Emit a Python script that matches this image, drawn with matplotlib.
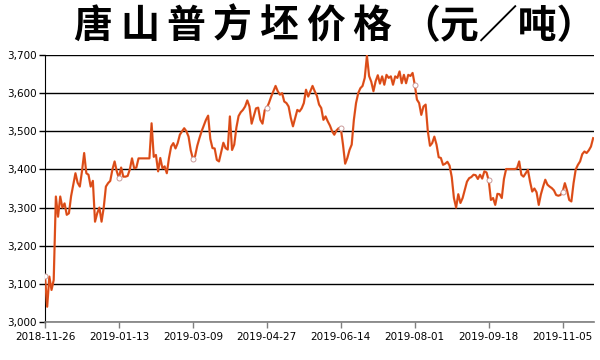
import matplotlib

matplotlib.use("Agg")
import matplotlib.pyplot as plt
from matplotlib.ticker import FuncFormatter, MultipleLocator

# 唐山普方坯 daily price (yuan/ton), one value per trading day
prices = [
    3120, 3040, 3119, 3084, 3110, 3329, 3276, 3329, 3300, 3311,
    3281, 3285, 3330, 3360, 3390, 3365, 3355, 3395, 3443, 3390,
    3386, 3355, 3370, 3263, 3285, 3300, 3263, 3300, 3355, 3364,
    3370, 3400, 3421, 3395, 3377, 3405, 3381, 3381, 3383, 3400,
    3429, 3403, 3405, 3429, 3429, 3429, 3429, 3429, 3429, 3521,
    3433, 3438, 3395, 3430, 3403, 3408, 3390, 3430, 3460, 3469,
    3455, 3469, 3491, 3500, 3508, 3500, 3486, 3450, 3428, 3435,
    3462, 3482, 3500, 3515, 3530, 3541, 3480, 3456, 3455, 3425,
    3421, 3445, 3470, 3456, 3452, 3539, 3451, 3465, 3510, 3540,
    3550, 3556, 3565, 3581, 3565, 3520, 3540, 3560, 3562, 3530,
    3520, 3555, 3561, 3575, 3591, 3605, 3619, 3605, 3596, 3600,
    3578, 3574, 3565, 3535, 3513, 3535, 3556, 3552, 3560, 3574,
    3609, 3591, 3605, 3619, 3605, 3593, 3570, 3561, 3530, 3539,
    3526, 3515, 3500, 3491, 3502, 3508, 3508, 3465, 3415, 3430,
    3451, 3465, 3530, 3574, 3600, 3613, 3619, 3640, 3698, 3645,
    3630, 3605, 3631, 3647, 3625, 3644, 3622, 3648, 3640, 3644,
    3622, 3644, 3640, 3657, 3626, 3648, 3626, 3648, 3645, 3653,
    3622, 3583, 3574, 3543, 3565, 3570, 3500, 3462, 3469, 3486,
    3465, 3432, 3430, 3412, 3415, 3420, 3410, 3380, 3325, 3300,
    3335, 3312, 3325, 3346, 3368, 3377, 3380, 3386, 3385, 3375,
    3386, 3376, 3395, 3392, 3371, 3320, 3325, 3307, 3336, 3335,
    3325, 3375, 3401, 3401, 3401, 3401, 3401, 3403, 3421, 3386,
    3381, 3390, 3399, 3368, 3342, 3350, 3340, 3307, 3335, 3355,
    3373, 3360, 3355, 3351, 3345, 3333, 3331, 3333, 3342, 3364,
    3345, 3320, 3316, 3364, 3400, 3412, 3421, 3440, 3447, 3443,
    3450, 3460, 3482,
]
tick_idx = [0, 34, 68, 102, 136, 170, 204, 238]
tick_dates = [
    "2018-11-26", "2019-01-13", "2019-03-09", "2019-04-27",
    "2019-06-14", "2019-08-01", "2019-09-18", "2019-11-05",
]
title_main = "唐山普方坯价格"
title_unit = "（元／吨）"

plt.rcParams["font.family"] = ["DejaVu Sans"]
title_font = dict(fontsize=28, fontweight="heavy", va="baseline",
                  ha="center", family=["Noto Sans CJK SC", "DejaVu Sans"])

fig = plt.figure(figsize=(6, 3.6), dpi=100)
fig.patch.set_facecolor("white")
ax = fig.add_axes([0.075, 0.1056, 0.915, 0.7416])

days = list(range(len(prices)))
ax.plot(days, prices, color="#e8561c", linewidth=1.6, solid_joinstyle="round",
        zorder=3)
ax.plot(days, prices, color="#b83a1a", linewidth=0.5, alpha=0.6, zorder=4)
ax.plot(tick_idx, [prices[i] for i in tick_idx], linestyle="none", marker="o",
        markersize=3.6, markerfacecolor="white", markeredgecolor="#c99a9a",
        markeredgewidth=0.7, zorder=5)

ax.set_ylim(3000, 3700)
ax.set_xlim(0, 252.4)
ax.yaxis.set_major_locator(MultipleLocator(100))
ax.yaxis.set_major_formatter(FuncFormatter(lambda v, _: f"{v:,.0f}"))
ax.set_xticks(tick_idx)
ax.set_xticklabels(tick_dates)

ax.grid(axis="y", color="black", linewidth=1.0)
ax.set_axisbelow(True)
ax.spines["top"].set_visible(False)
ax.spines["right"].set_visible(False)
ax.spines["left"].set_color("black")
ax.spines["bottom"].set_color("#7f7f7f")
ax.spines["bottom"].set_linewidth(1.2)
ax.tick_params(axis="y", length=4, width=1, labelsize=7.5, pad=2,
               colors="black")
ax.tick_params(axis="x", length=4, width=1, color="#7f7f7f", labelsize=7.5,
               pad=3, labelcolor="black")

# the title in the reference is spaced out: one character every ~46 px
for k, ch in enumerate(title_main):
    fig.text((93 + 46.5 * k) / 600, 0.895, ch, **title_font)
fig.text(498 / 600, 0.895, title_unit, **title_font)

fig.savefig("out.png", dpi=100, facecolor="white")
